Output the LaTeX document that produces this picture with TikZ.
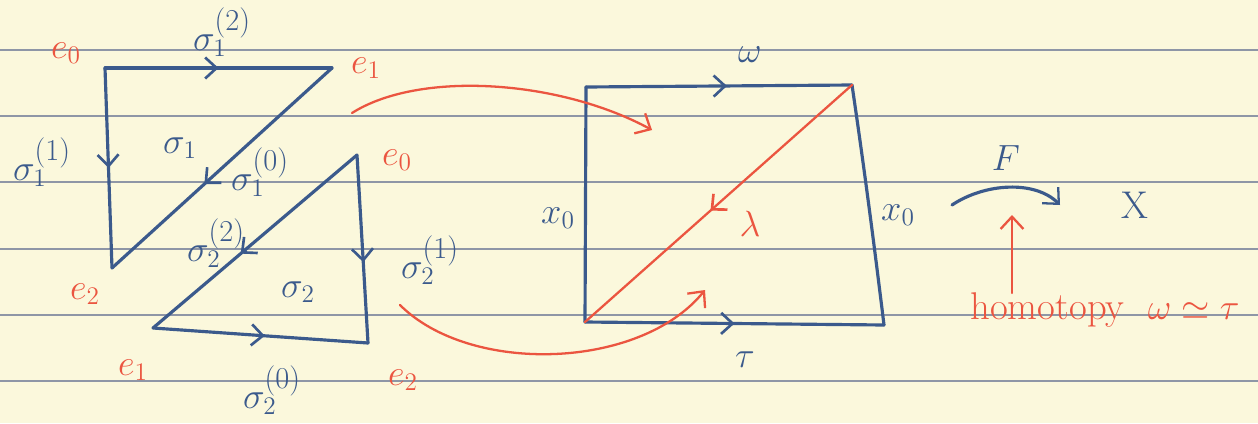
\documentclass[tikz,border=0pt]{standalone}
\usetikzlibrary{arrows.meta,decorations.markings}
\definecolor{paper}{HTML}{FBF8DC}
\definecolor{ink}{HTML}{3B5A8C}
\definecolor{redink}{HTML}{EB5540}
\definecolor{ruling}{HTML}{8E96A6}
\newcommand\sgm[2]{\sigma_{#1}^{\mbox{\fontsize{18}{20}\selectfont$(#2)$}}}
\tikzset{
  edge/.style={draw=ink, line width=1.8pt, line cap=round, line join=round},
  redline/.style={draw=redink, line width=1.3pt, line cap=round},
  midarrow/.style={postaction={decorate},decoration={markings,
     mark=at position #1 with {\arrow{Straight Barb[length=6.5pt,width=12pt,line width=1.5pt]}}}},
  blab/.style={text=ink, font=\fontsize{22}{26}\selectfont, inner sep=0pt},
  rlab/.style={text=redink, font=\fontsize{22}{26}\selectfont, inner sep=0pt},
  tip/.style={-{Straight Barb[length=7pt,width=13pt,line width=1.3pt]}}
}
\begin{document}
\begin{tikzpicture}[x=0.02cm,y=-0.02cm]
\fill[paper] (0,0) rectangle (1258,423);
\useasboundingbox (0,0) rectangle (1258,423);
\foreach \yy in {50,116,182,249,315,381} \draw[ruling, line width=0.7pt] (0,\yy) -- (1258,\yy);

% triangle 1
\coordinate (A0) at (105,68);
\coordinate (A1) at (332,68);
\coordinate (A2) at (112,268);
\draw[edge, midarrow=0.5] (A0) -- (A1);
\draw[edge, midarrow=0.5] (A0) -- (A2);
\draw[edge, midarrow=0.58] (A1) -- (A2);
\node[rlab] (la0) at (66,53) {$e_0$};
\node[rlab] (la1) at (366,68) {$e_1$};
\node[rlab] (la2) at (85,294) {$e_2$};
\node[blab] (s12) at (222,32) {$\sgm{1}{2}$};
\node[blab] (s11) at (42,162) {$\sgm{1}{1}$};
\node[blab] (s1) at (180,148) {$\sigma_1$};
\node[blab] (s10) at (260,172) {$\sgm{1}{0}$};

% triangle 2
\coordinate (B0) at (357,155);
\coordinate (B1) at (153,328);
\coordinate (B2) at (368,343);
\draw[edge, midarrow=0.52] (B1) -- (B2);
\draw[edge, midarrow=0.57] (B0) -- (B2);
\draw[edge, midarrow=0.57] (B0) -- (B1);
\node[rlab] (lb0) at (397,160) {$e_0$};
\node[rlab] (lb1) at (133,370) {$e_1$};
\node[rlab] (lb2) at (403,380) {$e_2$};
\node[blab] (s22) at (216,243) {$\sgm{2}{2}$};
\node[blab] (s2) at (298,292) {$\sigma_2$};
\node[blab] (s21) at (430,260) {$\sgm{2}{1}$};
\node[blab] (s20) at (272,390) {$\sgm{2}{0}$};

% square
\coordinate (C0) at (585,322);
\coordinate (C1) at (586,87);
\coordinate (C2) at (852,85);
\coordinate (C3) at (884,325);
\draw[edge, midarrow=0.53] (C1) -- (C2);
\draw[edge, midarrow=0.5] (C0) -- (C3);
\draw[edge] (C1) -- (C0);
\draw[edge] (C2) .. controls (866,180) and (876,260) .. (C3);
\draw[redline, midarrow=0.53] (C2) -- (C0);
\node[blab] (om) at (750,55) {$\omega$};
\node[blab] (ta) at (745,360) {$\tau$};
\node[blab] (xl) at (558,218) {$x_0$};
\node[blab] (xr) at (898,215) {$x_0$};
\node[rlab] (la) at (750,224) {$\lambda$};

% red curved maps
\coordinate (P1) at (352,113);
\coordinate (Q1) at (652,130);
\draw[redline, tip] (P1) .. controls (420,70) and (560,80) .. (Q1);
\coordinate (P2) at (400,305);
\coordinate (Q2) at (705,290);
\draw[redline, tip] (P2) .. controls (470,375) and (640,370) .. (Q2);

% F map
\coordinate (F0) at (952,205);
\coordinate (F1) at (1060,205);
\draw[edge, tip] (F0) .. controls (985,183) and (1035,180) .. (F1);
\node[blab] (fl) at (1006,158) {$F$};
\node[blab] (X) at (1135,205) {X};
\node[rlab] (hom) at (1105,310) {homotopy\ \ $\omega\simeq\tau$};
\coordinate (H0) at (1012,293);
\coordinate (H1) at (1012,215);
\draw[redline, tip] (H0) -- (H1);
\end{tikzpicture}
\end{document}
